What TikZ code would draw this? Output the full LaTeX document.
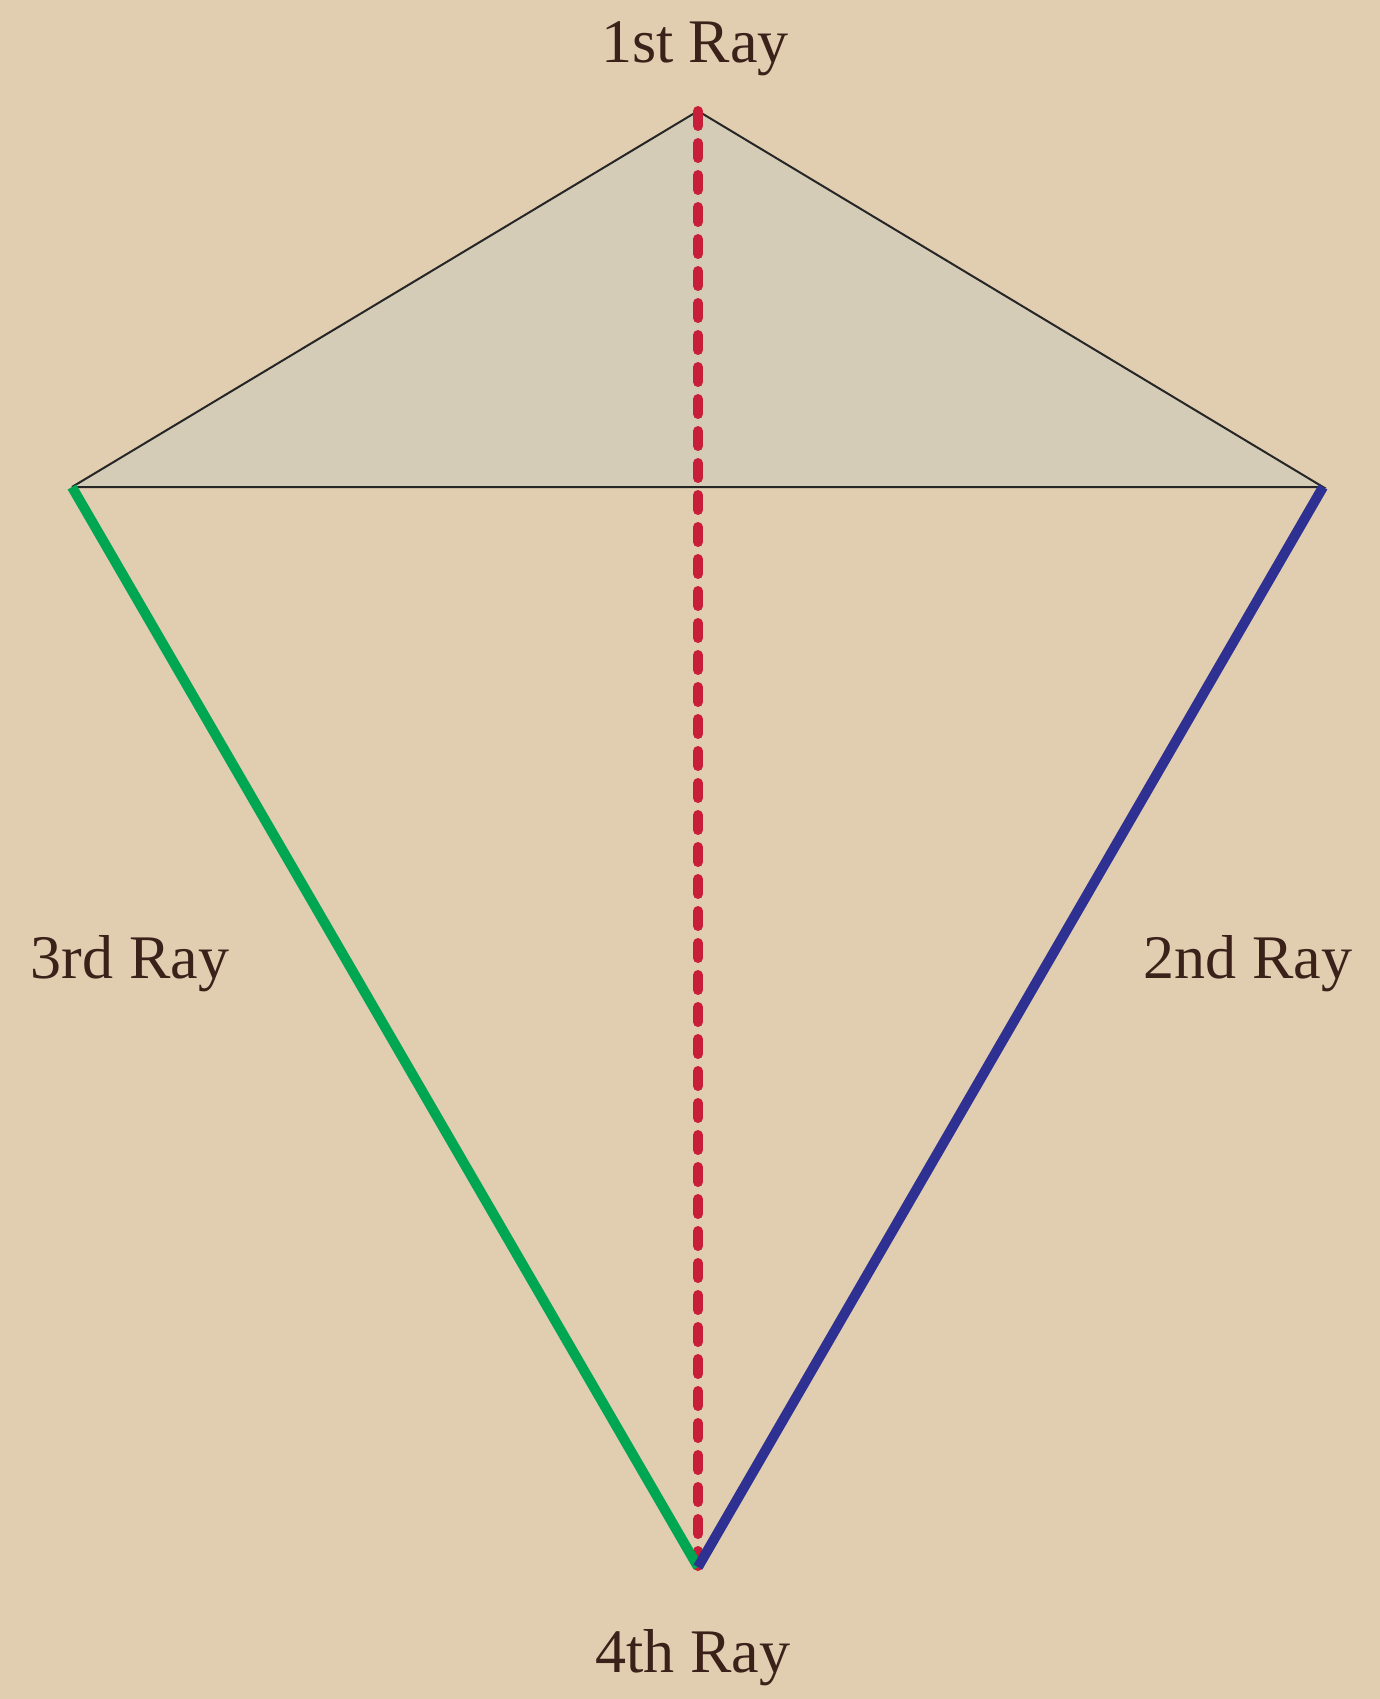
\documentclass[tikz,border=0pt]{standalone}
\usepackage{fontspec}
\setmainfont{Liberation Serif}
\definecolor{parch}{HTML}{E1CDB0}
\definecolor{kitefill}{HTML}{D5CCB8}
\definecolor{inkbrown}{HTML}{3A2119}
\definecolor{raygreen}{HTML}{00A651}
\definecolor{rayblue}{HTML}{2E3192}
\definecolor{rayred}{HTML}{C81E3A}
\begin{document}
\begin{tikzpicture}[x=0.5pt,y=-0.5pt,
  lbl/.style={font=\fontsize{31}{36}\selectfont, text=inkbrown, inner sep=0pt, anchor=base},
  edge/.style={draw=black!85, line width=1pt},
  thick ray/.style={line width=5pt},
  reddash/.style={draw=rayred, line width=5pt, line cap=round, dash pattern=on 7.5pt off 8.5pt}]
\fill[parch] (0,0) rectangle (1380,1699);
\useasboundingbox (0,0) rectangle (1380,1699);
\coordinate (T) at (698,111);
\coordinate (L) at (72,487);
\coordinate (R) at (1323,487);
\coordinate (B) at (698,1567);
\fill[kitefill] (T) -- (R) -- (L) -- cycle;
\draw[edge] (L) -- (T) -- (R) -- (L);
\draw[reddash] (T) -- (B);
\draw[raygreen, thick ray] (L) -- (B);
\draw[rayblue, thick ray] (R) -- (B);
\node[lbl] (n1) at (695,62) {1st Ray};
\node[lbl] (n3) at (130,978) {3rd Ray};
\node[lbl] (n2) at (1248,978) {2nd Ray};
\node[lbl] (n4) at (693,1672) {4th Ray};
\end{tikzpicture}
\end{document}
